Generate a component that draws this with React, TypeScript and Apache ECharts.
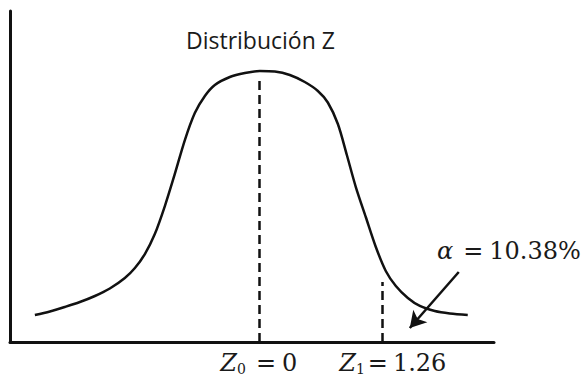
import React, { useEffect, useRef } from "react";
import * as echarts from "echarts";

// Curve: z value and density-like height
const curveZ = [-2.295, -2.141, -1.988, -1.834, -1.68, -1.527, -1.373, -1.27, -1.168, -1.066, -0.963, -0.861, -0.758, -0.656, -0.553, -0.451, -0.297, -0.143, 0.01, 0.164, 0.318, 0.471, 0.605, 0.707, 0.81, 0.902, 0.994, 1.096, 1.199, 1.301, 1.404, 1.527, 1.65, 1.803, 1.957, 2.141];
const curveY = [0.0408, 0.0461, 0.0529, 0.0604, 0.0695, 0.0808, 0.0967, 0.1118, 0.1329, 0.1631, 0.2054, 0.2538, 0.3051, 0.3459, 0.3716, 0.3882, 0.4003, 0.4063, 0.4094, 0.4086, 0.4033, 0.3927, 0.3792, 0.3618, 0.3293, 0.2825, 0.2341, 0.1888, 0.1435, 0.1073, 0.0846, 0.0665, 0.0544, 0.0468, 0.0431, 0.0408];

const z0Value = 0;
const z1Value = 1.26;
const z0Top = 0.4;
const z1Top = 0.0906;
const arrowFrom = [2.049, 0.1057];
const arrowTo = [1.547, 0.0211];
const alphaLabel = "10.38%";
const titleText = "Distribución Z";
const tickValues = [z0Value, z1Value];
const tickLabels = ["0", "1.26"];

const mathFont = "DejaVu Serif";

export default function App() {
  const ref = useRef<HTMLDivElement>(null);
  useEffect(() => {
    if (!ref.current) return;
    const chart = echarts.init(ref.current, null, { renderer: "svg" });
    const data = curveZ.map((z, i) => [z, curveY[i]]);
    chart.setOption({
      animation: false,
      backgroundColor: "#ffffff",
      grid: { left: 10, right: 92, top: 11, bottom: 34 },
      xAxis: {
        type: "value",
        min: -2.55,
        max: 2.41,
        splitLine: { show: false },
        axisTick: { show: false },
        axisLine: { show: true, onZero: false, lineStyle: { color: "#111", width: 3 } },
        axisLabel: {
          show: true,
          customValues: tickValues,
          margin: 7,
          formatter: (v: number) =>
            v === 0
              ? "{z|Z}{s|0}{e|=}{n|" + tickLabels[0] + "}"
              : "{z1|Z}{s1|1}{e1|=}{n|" + tickLabels[1] + "}",
          rich: {
            z: { fontFamily: mathFont, fontStyle: "italic", fontSize: 24, color: "#1a1a1a", lineHeight: 27, verticalAlign: "middle" },
            z1: { fontFamily: mathFont, fontStyle: "italic", fontSize: 24, color: "#1a1a1a", lineHeight: 27, verticalAlign: "middle", padding: [0, 0, 0, 22] },
            s: { fontFamily: mathFont, fontSize: 14, color: "#1a1a1a", lineHeight: 9, verticalAlign: "bottom" },
            s1: { fontFamily: mathFont, fontSize: 14, color: "#1a1a1a", lineHeight: 9, verticalAlign: "bottom" },
            e: { fontFamily: mathFont, fontSize: 24, color: "#1a1a1a", lineHeight: 27, verticalAlign: "middle", padding: [0, 6, 0, 10] },
            e1: { fontFamily: mathFont, fontSize: 24, color: "#1a1a1a", lineHeight: 27, verticalAlign: "middle", padding: [0, 5, 0, 3] },
            n: { fontFamily: mathFont, fontSize: 24, color: "#1a1a1a", lineHeight: 27, verticalAlign: "middle" },
          },
        },
      },
      yAxis: {
        type: "value",
        min: 0,
        max: 0.5,
        splitLine: { show: false },
        axisTick: { show: false },
        axisLabel: { show: false },
        axisLine: { show: true, onZero: false, lineStyle: { color: "#111", width: 3 } },
      },
      series: [
        {
          type: "line",
          data,
          smooth: 0.3,
          showSymbol: false,
          symbol: "none",
          lineStyle: { color: "#111", width: 2.5 },
          markLine: {
            silent: true,
            symbol: "none",
            label: { show: false },
            lineStyle: { color: "#111", width: 2.5, type: [9, 5] },
            data: [
              [{ coord: [z0Value, 0] }, { coord: [z0Value, z0Top] }],
              [{ coord: [z1Value, 0] }, { coord: [z1Value, z1Top] }],
            ],
          },
        },
        {
          type: "line",
          data: [],
          markLine: {
            silent: true,
            symbol: ["none", "arrow"],
            symbolSize: [14, 16],
            label: { show: false },
            lineStyle: { color: "#111", width: 2.5, type: "solid" },
            itemStyle: { color: "#111" },
            data: [[{ coord: arrowFrom }, { coord: arrowTo }]],
          },
        },
      ],
      graphic: [
        {
          type: "text",
          x: 186,
          y: 40,
          style: {
            text: titleText,
            fontFamily: "Open Sans",
            fontSize: 23,
            fill: "#1a1a1a",
            verticalAlign: "middle",
            align: "left",
          },
        },
        {
          type: "text",
          x: 437,
          y: 251,
          style: {
            text: "{a|α}{e|=}{n|" + alphaLabel + "}",
            verticalAlign: "middle",
            align: "left",
            rich: {
              a: { fontFamily: mathFont, fontStyle: "italic", fontSize: 24, fill: "#1a1a1a", lineHeight: 27 },
              e: { fontFamily: mathFont, fontSize: 24, fill: "#1a1a1a", lineHeight: 27, padding: [0, 6, 0, 10] },
              n: { fontFamily: mathFont, fontSize: 24, fill: "#1a1a1a", lineHeight: 27 },
            },
          },
        },
      ],
    });
    return () => chart.dispose();
  }, []);
  return <div ref={ref} style={{ position: "fixed", left: 0, top: 0, width: 586, height: 376 }} />;
}
